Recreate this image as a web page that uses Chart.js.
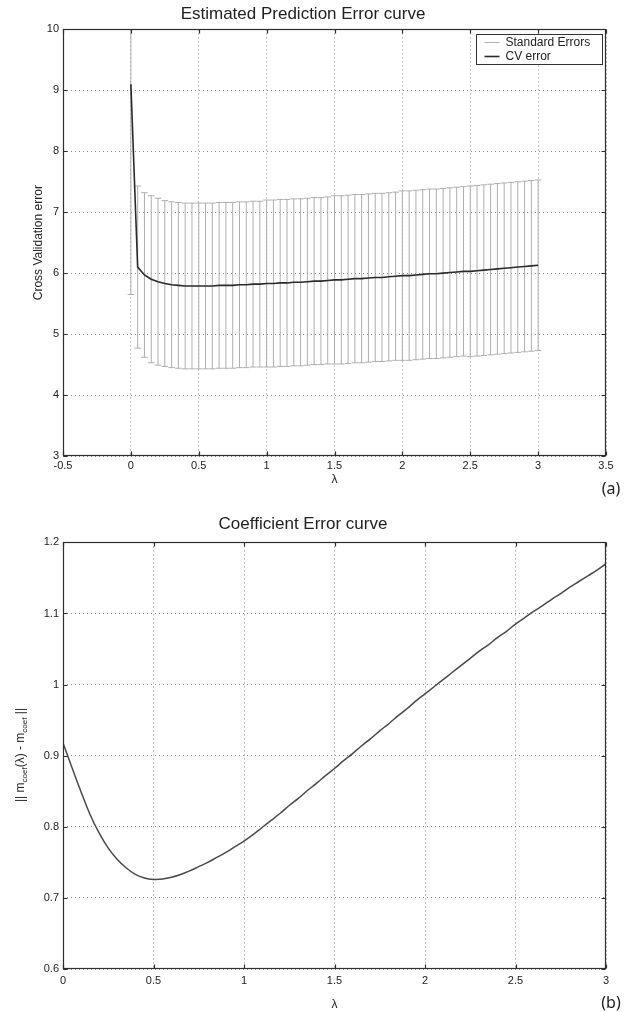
<!DOCTYPE html>
<html lang="en">
<head>
<meta charset="utf-8">
<title>Estimated Prediction Error curve / Coefficient Error curve</title>
<script src="https://cdn.jsdelivr.net/npm/chart.js@4.4.1/dist/chart.umd.min.js"></script>
<style>
  html, body { margin: 0; padding: 0; background: #fff; }
  #wrap { position: relative; width: 624px; height: 1012px; font-family: "Liberation Sans", Arial, sans-serif; color: #222; }
  .panel { position: absolute; left: 0; width: 624px; }
  #panel-a { top: 0; height: 500px; }
  #panel-b { top: 500px; height: 512px; }
  .tag { position: absolute; transform: translate(-50%, -50%); font-family: "Noto Sans", sans-serif; font-size: 16px; color: #222; }
  .ylab { position: absolute; transform: translate(-50%, -50%) rotate(-90deg); white-space: nowrap; font-size: 12px; color: #222; }
  .ylab sub { font-size: 8px; vertical-align: -3px; }
</style>
</head>
<body>
<div id="wrap">
  <div class="panel" id="panel-a"><canvas id="chart-a"></canvas></div>
  <div class="panel" id="panel-b"><canvas id="chart-b"></canvas></div>
  <!-- panel tags and y label with subscripts -->
  <span class="tag" style="left:611px; top:488px">(a)</span>
  <span class="tag" style="left:611px; top:1002px">(b)</span>
  <div class="ylab" style="left:21px; top:755px">|| m<sub>coef</sub>(λ) - m<sub>coef</sub> ||</div>
</div>

<script>
  // lambda grid (both plots)
  const lambdas = [0, 0.05, 0.1, 0.15, 0.2, 0.25, 0.3, 0.35, 0.4, 0.45,
    0.5, 0.55, 0.6, 0.65, 0.7, 0.75, 0.8, 0.85, 0.9, 0.95,
    1, 1.05, 1.1, 1.15, 1.2, 1.25, 1.3, 1.35, 1.4, 1.45,
    1.5, 1.55, 1.6, 1.65, 1.7, 1.75, 1.8, 1.85, 1.9, 1.95,
    2, 2.05, 2.1, 2.15, 2.2, 2.25, 2.3, 2.35, 2.4, 2.45,
    2.5, 2.55, 2.6, 2.65, 2.7, 2.75, 2.8, 2.85, 2.9, 2.95, 3];

  // (a) cross validation error
  const cvError = [9.10, 6.10, 5.97, 5.90, 5.86, 5.83, 5.81, 5.80, 5.79, 5.79,
    5.79, 5.79, 5.79, 5.80, 5.80, 5.80, 5.81, 5.81, 5.82, 5.82,
    5.83, 5.83, 5.84, 5.84, 5.85, 5.85, 5.86, 5.87, 5.87, 5.88,
    5.89, 5.89, 5.90, 5.91, 5.91, 5.92, 5.93, 5.93, 5.94, 5.95,
    5.96, 5.96, 5.97, 5.98, 5.99, 5.99, 6.00, 6.01, 6.02, 6.03,
    6.03, 6.04, 6.05, 6.06, 6.07, 6.08, 6.09, 6.10, 6.11, 6.12, 6.13];

  // (a) standard error half-widths
  const stdError = [3.45, 1.33, 1.35, 1.37, 1.37, 1.36, 1.36, 1.36, 1.36, 1.36,
    1.36, 1.36, 1.36, 1.36, 1.36, 1.36, 1.36, 1.36, 1.36, 1.36,
    1.37, 1.37, 1.37, 1.37, 1.37, 1.37, 1.37, 1.37, 1.37, 1.37,
    1.38, 1.38, 1.38, 1.38, 1.38, 1.38, 1.38, 1.38, 1.38, 1.38,
    1.39, 1.39, 1.39, 1.39, 1.39, 1.39, 1.39, 1.39, 1.39, 1.39,
    1.40, 1.40, 1.40, 1.40, 1.40, 1.40, 1.40, 1.40, 1.40, 1.40, 1.40];

  // (b) coefficient error
  const coefError = [0.918, 0.883, 0.849, 0.817, 0.791, 0.770, 0.754, 0.742, 0.733, 0.728,
    0.726, 0.7265, 0.729, 0.733, 0.738, 0.744, 0.750, 0.757, 0.764, 0.772,
    0.780, 0.789, 0.799, 0.809, 0.819, 0.830, 0.840, 0.851, 0.861, 0.872,
    0.882, 0.893, 0.903, 0.914, 0.924, 0.935, 0.945, 0.956, 0.966, 0.977,
    0.987, 0.997, 1.007, 1.017, 1.027, 1.037, 1.047, 1.056, 1.066, 1.075,
    1.085, 1.094, 1.103, 1.111, 1.120, 1.128, 1.137, 1.145, 1.153, 1.161, 1.170];

  // tick values
  const xTicksA = [-0.5, 0, 0.5, 1, 1.5, 2, 2.5, 3, 3.5];
  const yTicksA = [3, 4, 5, 6, 7, 8, 9, 10];
  const xTicksB = [0, 0.5, 1, 1.5, 2, 2.5, 3];
  const yTicksB = [0.6, 0.7, 0.8, 0.9, 1, 1.1, 1.2];

  Chart.defaults.font.family = '"Liberation Sans", Arial, sans-serif';
  Chart.defaults.color = '#222';

  const CAP = 0.024; // half cap width in lambda units

  // error bars as one broken polyline (null = gap)
  const errPoints = [];
  lambdas.forEach((l, i) => {
    const lo = cvError[i] - stdError[i];
    const hi = cvError[i] + stdError[i];
    errPoints.push({x: l, y: lo}, {x: l, y: hi}, {x: l, y: null});
    errPoints.push({x: l - CAP, y: hi}, {x: l + CAP, y: hi}, {x: l, y: null});
    errPoints.push({x: l - CAP, y: lo}, {x: l + CAP, y: lo}, {x: l, y: null});
  });

  const fmt = v => String(parseFloat(Number(v).toFixed(2)));

  // box + inward ticks on all four sides, matlab style
  const framePlugin = {
    id: 'frame',
    afterDatasetsDraw(chart) {
      const {ctx, chartArea: a, scales: {x, y}} = chart;
      const L = Math.round(a.left) + 0.5, R = Math.round(a.right) - 0.5;
      const T = Math.round(a.top) + 0.5, B = Math.round(a.bottom) - 0.5;
      ctx.save();
      ctx.strokeStyle = '#2e2e2e';
      ctx.lineWidth = 1.2;
      ctx.strokeRect(L, T, R - L, B - T);
      ctx.beginPath();
      x.ticks.forEach(t => {
        const px = Math.round(x.getPixelForValue(t.value)) + 0.5;
        ctx.moveTo(px, B); ctx.lineTo(px, B - 4);
        ctx.moveTo(px, T); ctx.lineTo(px, T + 4);
      });
      y.ticks.forEach(t => {
        const py = Math.round(y.getPixelForValue(t.value)) + 0.5;
        ctx.moveTo(L, py); ctx.lineTo(L + 4, py);
        ctx.moveTo(R, py); ctx.lineTo(R - 4, py);
      });
      ctx.stroke();
      ctx.restore();
    }
  };

  // legend box inside the plot (top right)
  const boxLegend = {
    id: 'boxLegend',
    afterDraw(chart) {
      const {ctx, chartArea: a} = chart;
      const items = chart.data.datasets.filter(d => d.label);
      const bw = 126, bh = 30;
      const bx = Math.round(a.right) - bw - 3.5, by = Math.round(a.top) + 5.5;
      ctx.save();
      ctx.fillStyle = '#fff';
      ctx.fillRect(bx, by, bw, bh);
      ctx.strokeStyle = '#333';
      ctx.lineWidth = 1;
      ctx.strokeRect(bx, by, bw, bh);
      ctx.font = '12px "Liberation Sans", Arial, sans-serif';
      ctx.textBaseline = 'middle';
      items.forEach((d, i) => {
        const ly = by + 8 + i * 14;
        ctx.strokeStyle = d.borderColor;
        ctx.lineWidth = d.borderWidth;
        ctx.beginPath();
        ctx.moveTo(bx + 8, ly); ctx.lineTo(bx + 23, ly);
        ctx.stroke();
        ctx.fillStyle = '#222';
        ctx.fillText(d.label, bx + 29, ly);
      });
      ctx.restore();
    }
  };

  function gridOpts() {
    return {
      grid: {color: '#8a8a8a', lineWidth: 1, drawTicks: false},
      border: {display: false, dash: [1, 3]}
    };
  }

  // (a) Estimated Prediction Error curve
  new Chart(document.getElementById('chart-a'), {
    type: 'line',
    data: {
      datasets: [
        {
          label: 'Standard Errors',
          data: errPoints,
          borderColor: '#aeaeae',
          borderWidth: 1,
          pointRadius: 0,
          spanGaps: false,
          order: 2
        },
        {
          label: 'CV error',
          data: lambdas.map((l, i) => ({x: l, y: cvError[i]})),
          borderColor: '#2a2a2a',
          borderWidth: 1.6,
          pointRadius: 0,
          order: 1
        }
      ]
    },
    options: {
      animation: false,
      responsive: true,
      maintainAspectRatio: false,
      layout: {padding: {left: 0, right: 18, top: 0, bottom: 0}},
      plugins: {
        legend: {display: false},
        tooltip: {enabled: false},
        title: {
          display: true,
          text: 'Estimated Prediction Error curve',
          font: {size: 17, weight: 'normal'},
          color: '#222',
          padding: {top: 4, bottom: 5}
        }
      },
      scales: {
        x: {
          type: 'linear', min: -0.5, max: 3.5,
          afterBuildTicks: s => { s.ticks = xTicksA.map(v => ({value: v})); },
          afterFit: s => { s.height = 44; },
          ticks: {font: {size: 11}, padding: 3, callback: fmt},
          title: {display: true, text: 'λ', font: {size: 12}, padding: {top: 0, bottom: 13}},
          ...gridOpts()
        },
        y: {
          min: 3, max: 10,
          afterBuildTicks: s => { s.ticks = yTicksA.map(v => ({value: v})); },
          afterFit: s => { s.width = 63; },
          ticks: {font: {size: 11}, padding: 4, callback: fmt},
          title: {display: true, text: 'Cross Validation error', font: {size: 12}, padding: {top: 31, bottom: 0}},
          ...gridOpts()
        }
      }
    },
    plugins: [framePlugin, boxLegend]
  });

  // (b) Coefficient Error curve
  new Chart(document.getElementById('chart-b'), {
    type: 'line',
    data: {
      datasets: [{
        data: lambdas.map((l, i) => ({x: l, y: coefError[i]})),
        borderColor: '#4a4a4a',
        borderWidth: 1.5,
        pointRadius: 0,
        tension: 0.4
      }]
    },
    options: {
      animation: false,
      responsive: true,
      maintainAspectRatio: false,
      layout: {padding: {left: 0, right: 18, top: 0, bottom: 0}},
      plugins: {
        legend: {display: false},
        tooltip: {enabled: false},
        title: {
          display: true,
          text: 'Coefficient Error curve',
          font: {size: 17, weight: 'normal'},
          color: '#222',
          padding: {top: 14, bottom: 8}
        }
      },
      scales: {
        x: {
          type: 'linear', min: 0, max: 3,
          afterBuildTicks: s => { s.ticks = xTicksB.map(v => ({value: v})); },
          afterFit: s => { s.height = 43; },
          ticks: {font: {size: 11}, padding: 5, callback: fmt},
          title: {display: true, text: 'λ', font: {size: 12}, padding: {top: 0, bottom: 0}},
          ...gridOpts()
        },
        y: {
          min: 0.6, max: 1.2,
          afterBuildTicks: s => { s.ticks = yTicksB.map(v => ({value: v})); },
          afterFit: s => { s.width = 63; },
          ticks: {font: {size: 11}, padding: 4, callback: fmt},
          ...gridOpts()
        }
      }
    },
    plugins: [framePlugin]
  });
</script>
</body>
</html>
